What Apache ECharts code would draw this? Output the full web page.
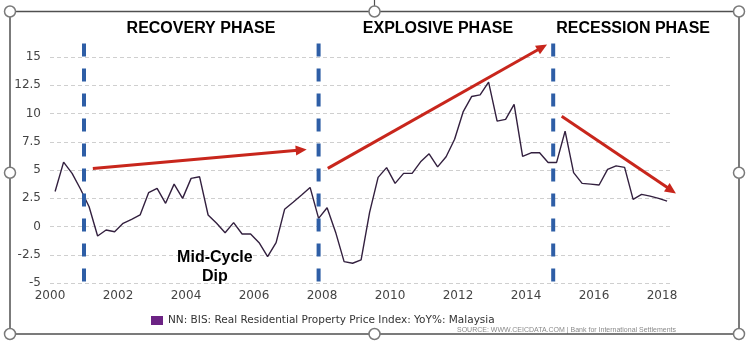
<!DOCTYPE html>
<html>
<head>
<meta charset="utf-8">
<script src="https://cdn.jsdelivr.net/npm/echarts@6/dist/echarts.min.js"></script>
<style>
  html, body { margin: 0; padding: 0; background: #ffffff; }
  #chart { width: 750px; height: 348px; }
</style>
</head>
<body>
<div id="chart"></div>
<script>
// Malaysia real residential property prices, YoY %, quarterly from 2000 Q1
const seriesName = 'NN: BIS: Real Residential Property Price Index: YoY%: Malaysia';
const firstYear = 2000;
const yoyPct = [
  3.1, 5.7, 4.7, 3.3,      // 2000
  1.75, -0.84, -0.31, -0.46, // 2001
  0.28, 0.64, 1.02, 2.99,  // 2002
  3.37, 2.05, 3.75, 2.49,  // 2003
  4.26, 4.40, 1.02, 0.28,  // 2004
  -0.55, 0.34, -0.66, -0.66, // 2005
  -1.43, -2.67, -1.43, 1.52, // 2006
  2.14, 2.78, 3.46, 0.72,  // 2007
  1.66, -0.5, -3.11, -3.25, // 2008
  -2.96, 1.25, 4.35, 5.21, // 2009
  3.82, 4.70, 4.70, 5.72,  // 2010
  6.43, 5.28, 6.17, 7.72,  // 2011
  10.14, 11.50, 11.65, 12.77, // 2012
  9.33, 9.48, 10.80, 6.20, // 2013
  6.52, 6.52, 5.67, 5.67,  // 2014
  8.44, 4.77, 3.82, 3.75,  // 2015
  3.67, 5.05, 5.37, 5.23,  // 2016
  2.40, 2.84, 2.69, 2.49,  // 2017
  2.25                     // 2018
];

// Axis ticks
const yMin = -5, yMax = 15, yStep = 2.5;
const xMin = 2000, xMax = 2018.3, xStep = 2;

// Phase boundaries (dashed guides) and headings
const phaseBoundaryYears = [2001.0, 2007.9, 2014.8];
const guideTop = 16.2;
const phaseTitles = ['RECOVERY PHASE', 'EXPLOSIVE PHASE', 'RECESSION PHASE'];
const phaseTitleYears = [2004.44, 2011.41, 2017.15];

// Trend arrows: [fromYear, fromValue, toYear, toValue]
const trendArrows = [
  [2001.26, 5.14, 2007.55, 6.82],
  [2008.17, 5.14, 2014.62, 16.1],
  [2015.05, 9.76, 2018.41, 2.93]
];

const dipLabel = ['Mid-Cycle', 'Dip'];
const dipLabelPos = [2004.85, -3.55];

const linePoints = yoyPct.map((v, i) => [firstYear + i / 4 + 0.15, v]);
// guides run top-down so the dash pattern starts just under the headings
const guideLines = phaseBoundaryYears.map(x => [x, guideTop, x, yMin]);
const titlePoints = phaseTitles.map((t, i) => [phaseTitleYears[i], 17.5, t]);

const chart = echarts.init(document.getElementById('chart'), null, { renderer: 'canvas' });

function renderGuide(params, api) {
  const p1 = api.coord([api.value(0), api.value(1)]);
  const p2 = api.coord([api.value(2), api.value(3)]);
  return {
    type: 'line',
    shape: { x1: p1[0], y1: p1[1], x2: p2[0], y2: p2[1] },
    style: { stroke: '#2e5ea6', lineWidth: 4, lineDash: [13, 12], lineCap: 'butt' }
  };
}

function renderArrow(params, api) {
  const p1 = api.coord([api.value(0), api.value(1)]);
  const p2 = api.coord([api.value(2), api.value(3)]);
  const dx = p2[0] - p1[0], dy = p2[1] - p1[1];
  const len = Math.sqrt(dx * dx + dy * dy);
  const ux = dx / len, uy = dy / len;
  const headLen = 11, headHalf = 5;
  const bx = p2[0] - ux * headLen, by = p2[1] - uy * headLen;
  const color = '#c8261c';
  return {
    type: 'group',
    children: [
      {
        type: 'line',
        shape: { x1: p1[0], y1: p1[1], x2: bx + ux * 2, y2: by + uy * 2 },
        style: { stroke: color, lineWidth: 3 }
      },
      {
        type: 'polygon',
        shape: {
          points: [
            [p2[0], p2[1]],
            [bx - uy * headHalf, by + ux * headHalf],
            [bx + uy * headHalf, by - ux * headHalf]
          ]
        },
        style: { fill: color }
      }
    ]
  };
}

function renderTitle(params, api) {
  const p = api.coord([api.value(0), api.value(1)]);
  return {
    type: 'text',
    x: p[0], y: p[1],
    style: {
      text: phaseTitles[params.dataIndex],
      font: 'bold 16px "Liberation Sans", Arial, sans-serif',
      fill: '#000000',
      align: 'center',
      verticalAlign: 'middle'
    }
  };
}

function renderDip(params, api) {
  const p = api.coord([api.value(0), api.value(1)]);
  return {
    type: 'text',
    x: p[0], y: p[1],
    style: {
      text: dipLabel.join('\n'),
      font: 'bold 16px "Liberation Sans", Arial, sans-serif',
      lineHeight: 19,
      fill: '#000000',
      align: 'center',
      verticalAlign: 'middle'
    }
  };
}

// Selection-style frame around the chart
const frame = { x: 10, y: 11.5, w: 729, h: 322.5 };
const handlePts = [
  [frame.x, frame.y], [frame.x + frame.w / 2, frame.y], [frame.x + frame.w, frame.y],
  [frame.x + frame.w, frame.y + frame.h / 2],
  [frame.x + frame.w, frame.y + frame.h], [frame.x + frame.w / 2, frame.y + frame.h], [frame.x, frame.y + frame.h],
  [frame.x, frame.y + frame.h / 2]
];
const frameGraphics = [
  {
    type: 'rect', z: 100,
    shape: { x: frame.x, y: frame.y, width: frame.w, height: frame.h },
    style: { fill: 'none', stroke: '#505050', lineWidth: 1.5 }
  },
  {
    type: 'line', z: 100,
    shape: { x1: frame.x + frame.w / 2, y1: 0, x2: frame.x + frame.w / 2, y2: frame.y },
    style: { stroke: '#505050', lineWidth: 1.2 }
  }
].concat(handlePts.map(p => ({
  type: 'circle', z: 101,
  shape: { cx: p[0], cy: p[1], r: 5.5 },
  style: { fill: '#ffffff', stroke: '#7a7a7a', lineWidth: 1.5 }
})));

frameGraphics.push({
  type: 'text', z: 50,
  x: 676, y: 330,
  style: {
    text: 'SOURCE: WWW.CEICDATA.COM | Bank for International Settlements',
    font: '7px "Liberation Sans", Arial, sans-serif',
    fill: '#8a8a8a',
    align: 'right',
    verticalAlign: 'middle'
  }
});

chart.setOption({
  animation: false,
  backgroundColor: '#ffffff',
  grid: { left: 50, right: 77.8, top: 57, bottom: 65, containLabel: false },
  legend: {
    data: [seriesName],
    left: 151, top: 315, padding: 0,
    icon: 'rect', itemWidth: 12, itemHeight: 9,
    textStyle: { fontFamily: 'DejaVu Sans', fontSize: 10.5, color: '#333333' },
    selectedMode: false
  },
  xAxis: {
    type: 'value',
    min: xMin, max: xMax, interval: xStep,
    axisLine: { show: false },
    axisTick: { show: false },
    splitLine: { show: false },
    axisLabel: {
      margin: 7,
      fontFamily: 'DejaVu Sans', fontSize: 12, color: '#444444',
      formatter: v => (Math.abs(v % 2) < 1e-9 ? String(v) : '')
    }
  },
  yAxis: {
    type: 'value',
    min: yMin, max: yMax, interval: yStep,
    axisLine: { show: false },
    axisTick: { show: false },
    axisLabel: { margin: 9, fontFamily: 'DejaVu Sans', fontSize: 12, color: '#444444' },
    splitLine: { show: true, lineStyle: { color: '#cfcfcf', type: [4, 3], width: 1 } }
  },
  graphic: frameGraphics,
  series: [
    {
      name: seriesName,
      type: 'line',
      data: linePoints,
      showSymbol: false,
      clip: false,
      z: 3,
      itemStyle: { color: '#6c2384' },
      lineStyle: { color: '#33203f', width: 1.4 }
    },
    {
      type: 'custom', name: 'guides', data: guideLines, renderItem: renderGuide,
      clip: false, silent: true, z: 4
    },
    {
      type: 'custom', name: 'arrows', data: trendArrows, renderItem: renderArrow,
      clip: false, silent: true, z: 5
    },
    {
      type: 'custom', name: 'titles', data: titlePoints, renderItem: renderTitle,
      clip: false, silent: true, z: 5
    },
    {
      type: 'custom', name: 'dip', data: [dipLabelPos], renderItem: renderDip,
      clip: false, silent: true, z: 5
    }
  ]
});
</script>
</body>
</html>
